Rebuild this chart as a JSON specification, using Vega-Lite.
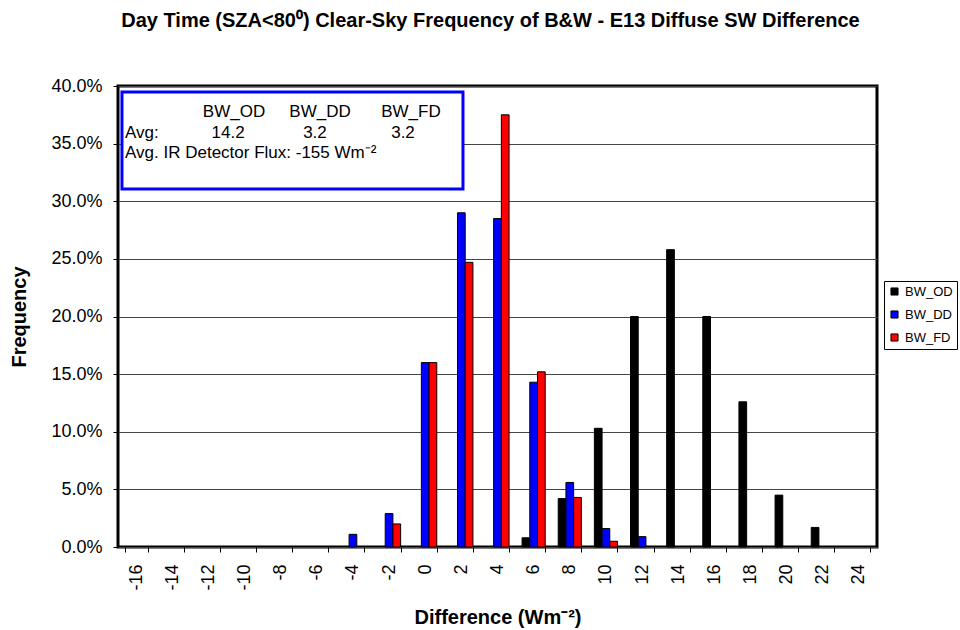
{
  "$schema": "https://vega.github.io/schema/vega-lite/v6.json",
  "width": 759,
  "height": 461,
  "autosize": {"type": "none"},
  "padding": {"left": 118, "top": 86, "right": 83, "bottom": 83},
  "background": "white",
  "title": {
    "text": "Day Time (SZA<80⁰) Clear-Sky Frequency of B&W - E13 Diffuse SW Difference",
    "font": "Liberation Sans",
    "fontSize": 20,
    "fontWeight": "bold",
    "color": "black",
    "anchor": "middle",
    "dx": -7,
    "offset": 46
  },
  "config": {
    "view": {"stroke": "black", "strokeWidth": 3},
    "font": "Liberation Sans",
    "axis": {
      "labelFont": "Liberation Sans",
      "titleFont": "Liberation Sans",
      "labelColor": "black",
      "titleColor": "black",
      "domain": false,
      "tickColor": "black",
      "tickSize": 5,
      "labelFontSize": 18,
      "titleFontSize": 20,
      "titleFontWeight": "bold"
    }
  },
  "datasets": {
    "bars": [
      {"diff": -4, "series": "BW_DD", "freq": 0.011},
      {"diff": -2, "series": "BW_DD", "freq": 0.029},
      {"diff": -2, "series": "BW_FD", "freq": 0.020},
      {"diff": 0, "series": "BW_DD", "freq": 0.160},
      {"diff": 0, "series": "BW_FD", "freq": 0.160},
      {"diff": 2, "series": "BW_DD", "freq": 0.290},
      {"diff": 2, "series": "BW_FD", "freq": 0.247},
      {"diff": 4, "series": "BW_DD", "freq": 0.285},
      {"diff": 4, "series": "BW_FD", "freq": 0.375},
      {"diff": 6, "series": "BW_OD", "freq": 0.008},
      {"diff": 6, "series": "BW_DD", "freq": 0.143},
      {"diff": 6, "series": "BW_FD", "freq": 0.152},
      {"diff": 8, "series": "BW_OD", "freq": 0.042},
      {"diff": 8, "series": "BW_DD", "freq": 0.056},
      {"diff": 8, "series": "BW_FD", "freq": 0.043},
      {"diff": 10, "series": "BW_OD", "freq": 0.103},
      {"diff": 10, "series": "BW_DD", "freq": 0.016},
      {"diff": 10, "series": "BW_FD", "freq": 0.005},
      {"diff": 12, "series": "BW_OD", "freq": 0.200},
      {"diff": 12, "series": "BW_DD", "freq": 0.009},
      {"diff": 14, "series": "BW_OD", "freq": 0.258},
      {"diff": 16, "series": "BW_OD", "freq": 0.200},
      {"diff": 18, "series": "BW_OD", "freq": 0.126},
      {"diff": 20, "series": "BW_OD", "freq": 0.045},
      {"diff": 22, "series": "BW_OD", "freq": 0.017}
    ]
  },
  "layer": [
    {
      "data": {"name": "bars"},
      "mark": {"type": "bar", "stroke": "black", "strokeWidth": 1},
      "encoding": {
        "x": {
          "field": "diff",
          "type": "ordinal",
          "scale": {
            "domain": [-16, -14, -12, -10, -8, -6, -4, -2, 0, 2, 4, 6, 8, 10, 12, 14, 16, 18, 20, 22, 24],
            "paddingInner": 0.36,
            "paddingOuter": 0.18
          },
          "axis": {
            "title": "Difference (Wm⁻²)",
            "tickBand": "extent",
            "labelAngle": 270,
            "labelAlign": "right",
            "labelBaseline": "middle",
            "labelPadding": 12,
            "titlePadding": 17
          }
        },
        "xOffset": {
          "field": "series",
          "type": "nominal",
          "scale": {"domain": ["BW_OD", "BW_DD", "BW_FD"], "paddingInner": 0, "paddingOuter": 0}
        },
        "y": {
          "field": "freq",
          "type": "quantitative",
          "scale": {"domain": [0, 0.4], "nice": false},
          "axis": {
            "title": "Frequency",
            "format": ".1%",
            "values": [0, 0.05, 0.1, 0.15, 0.2, 0.25, 0.3, 0.35, 0.4],
            "grid": true,
            "gridColor": "#444444",
            "gridWidth": 1,
            "labelPadding": 11,
            "titlePadding": 21
          }
        },
        "color": {
          "field": "series",
          "type": "nominal",
          "scale": {"domain": ["BW_OD", "BW_DD", "BW_FD"], "range": ["#000000", "#0000FF", "#FF0000"]},
          "legend": {
            "title": null,
            "orient": "none",
            "legendX": 766,
            "legendY": 195,
            "strokeColor": "black",
            "fillColor": "white",
            "padding": 4,
            "symbolType": "square",
            "symbolSize": 50,
            "symbolStrokeColor": "black",
            "symbolStrokeWidth": 1,
            "labelFont": "Liberation Sans",
            "labelFontSize": 13,
            "labelColor": "black",
            "labelOffset": 4,
            "rowPadding": 9
          }
        }
      }
    },
    {
      "data": {"values": [{}]},
      "mark": {"type": "rect", "fill": "white", "stroke": "#0000FF", "strokeWidth": 3},
      "encoding": {
        "x": {"datum": -16.78, "type": "quantitative", "scale": {"domain": [-17, 25], "nice": false, "zero": false}, "axis": null},
        "x2": {"datum": 2.09},
        "y": {"datum": 0.3948, "type": "quantitative"},
        "y2": {"datum": 0.3106}
      }
    },
    {
      "data": {"values": [
        {"txt": "BW_OD", "tx": -10.58, "ty": 0.3775},
        {"txt": "BW_DD", "tx": -5.82, "ty": 0.3775},
        {"txt": "BW_FD", "tx": -0.79, "ty": 0.3775},
        {"txt": "14.2", "tx": -10.91, "ty": 0.3595},
        {"txt": "3.2", "tx": -6.10, "ty": 0.3595},
        {"txt": "3.2", "tx": -1.23, "ty": 0.3595}
      ]},
      "mark": {"type": "text", "font": "Liberation Sans", "fontSize": 17, "align": "center", "baseline": "middle", "color": "black"},
      "encoding": {
        "x": {"field": "tx", "type": "quantitative", "scale": {"domain": [-17, 25], "nice": false, "zero": false}, "axis": null},
        "y": {"field": "ty", "type": "quantitative", "axis": {"title": "Frequency"}},
        "text": {"field": "txt"}
      }
    },
    {
      "data": {"values": [
        {"txt": "Avg:", "tx": -16.61, "ty": 0.3595},
        {"txt": "Avg. IR Detector Flux: -155 Wm⁻²", "tx": -16.61, "ty": 0.3415}
      ]},
      "mark": {"type": "text", "font": "Liberation Sans", "fontSize": 17, "align": "left", "baseline": "middle", "color": "black"},
      "encoding": {
        "x": {"field": "tx", "type": "quantitative", "scale": {"domain": [-17, 25], "nice": false, "zero": false}, "axis": null},
        "y": {"field": "ty", "type": "quantitative", "axis": {"title": "Frequency"}},
        "text": {"field": "txt"}
      }
    }
  ],
  "resolve": {"scale": {"x": "independent"}, "axis": {"x": "independent"}}
}
